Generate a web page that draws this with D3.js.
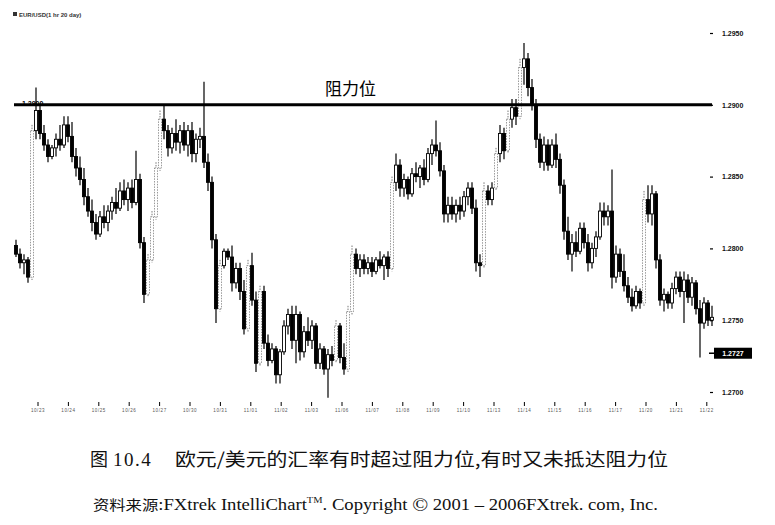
<!doctype html>
<html>
<head>
<meta charset="UTF-8">
<title>EUR/USD 阻力位</title>
<script src="https://d3js.org/d3.v7.min.js"></script>
<style>
  body { margin: 0; background: #fff; }
  svg { display: block; }
</style>
</head>
<body>
<script>
// prices kept as pips above 1.2700 (hourly bars)
var base = 1.2700;
var opens = [102,96,90,92,80,182,196,180,172,164, 170,176,172,186,178,164,156,148,136,126,
  118,110,122,118,126,132,128,140,134,142, 132,148,104,68,92,122,156,190,182,170,
  180,174,182,172,182,166,176,178,160,146, 106,58,88,98,94,76,86,70,44,88,
  64,20,70,34,22,30,12,28,46,54, 36,54,28,42,36,46,20,30,16,26,
  22,46,24,16,56,96,86,92,86,90, 84,92,88,94,86,146,158,142,148,138,
  152,150,156,148,166,172,168,154,124,130, 124,130,126,136,142,128,90,88,140,134,
  142,166,180,168,190,198,192,226,232,212, 200,176,160,172,158,172,162,144,112,96,
  104,98,114,104,90,100,108,126,122,126, 80,96,84,74,66,60,70,62,134,124,
  138,92,64,68,62,72,80,70,78,66, 76,58,48,62,50];
var highs = [106,100,96,94,186,212,200,186,176,172, 180,186,192,192,188,170,164,156,142,134,
  124,126,130,130,136,142,146,148,146,148, 168,152,108,96,126,160,196,200,186,184,
  190,186,188,186,188,180,184,216,166,150, 110,92,100,100,102,90,90,78,92,97,
  70,74,74,40,34,32,30,50,58,60, 60,56,46,52,50,48,34,32,30,32,
  50,48,34,60,102,100,96,96,94,94, 94,98,96,98,150,166,162,152,150,156,
  160,158,162,170,176,189,174,158,136,136, 134,136,140,146,146,134,96,146,144,146,
  170,186,184,196,204,204,232,243,236,218, 204,180,178,176,176,180,166,148,122,110,
  112,118,118,110,104,112,132,132,130,155, 102,100,96,80,72,74,72,140,144,144,
  140,96,72,70,76,84,84,84,82,80, 78,64,66,64,60];
var lows = [94,86,82,76,78,176,176,168,160,162, 164,168,170,174,160,150,144,130,122,112,
  106,108,114,112,120,124,126,130,126,128, 130,100,62,66,90,120,154,176,164,166,
  168,166,168,164,160,160,170,156,140,100, 48,56,86,92,70,72,64,40,42,60,
  14,18,30,18,20,6,6,26,40,30, 20,22,24,32,30,16,16,12,-4,18,
  20,20,12,14,54,82,80,82,82,80, 82,86,78,80,84,140,136,136,134,136,
  146,142,144,146,158,164,150,118,118,120, 118,120,122,130,124,84,80,86,130,130,
  140,160,162,166,184,186,190,214,206,196, 170,156,154,154,156,156,138,106,92,84,
  94,96,100,84,86,94,106,116,116,72, 76,80,70,62,56,58,58,60,118,116,
  86,60,56,58,58,68,66,48,62,60, 54,24,44,46,46];
var closes = [96,90,92,80,182,196,180,172,164,170, 176,172,186,178,164,156,148,136,126,118,
  110,122,118,126,132,128,140,134,142,132, 148,104,68,92,122,156,190,182,170,180,
  174,182,172,182,166,176,178,160,146,106, 58,88,98,94,76,86,70,44,88,64,
  20,70,34,22,30,12,28,46,54,36, 54,28,42,36,46,20,30,16,26,22,
  46,24,16,56,96,86,92,86,90,84, 92,88,94,86,146,158,142,148,138,152,
  150,156,148,166,172,168,154,124,130,124, 130,126,136,142,128,90,88,140,134,142,
  166,180,168,190,198,192,226,232,212,200, 176,160,172,158,172,162,144,112,96,104,
  98,114,104,90,100,108,126,122,126,80, 96,84,74,66,60,70,62,134,124,138,
  92,64,68,62,72,80,70,78,66,76, 58,48,62,50,52];

var priceTicks = [1.2700, 1.2750, 1.2800, 1.2850, 1.2900, 1.2950];
var resistance = 1.2900;
var lastQuote = 1.2727;
var dateLabels = ["10/23","10/24","10/25","10/26","10/27","10/30","10/31","11/01",
  "11/02","11/03","11/06","11/07","11/08","11/09","11/10","11/13","11/14","11/15",
  "11/16","11/17","11/20","11/21","11/22"];

var W = 775, H = 525;
var n = closes.length;
var svg = d3.select("body").append("svg").attr("width", W).attr("height", H);
svg.append("rect").attr("width", W).attr("height", H).attr("fill", "#fff");

var x = d3.scaleLinear().domain([0, n - 1]).range([16, 712]);
var y = d3.scaleLinear().domain([1.2700, 1.2950]).range([392, 33]);
function p(v) { return base + v / 10000; }
function up(i) { return closes[i] >= opens[i]; }
function tall(i) { return Math.abs(closes[i] - opens[i]) > 20; }

// header
svg.append("rect").attr("x", 13).attr("y", 12).attr("width", 4).attr("height", 4).attr("fill", "#333");
svg.append("text").attr("x", 19).attr("y", 17)
  .attr("font-family", "Liberation Sans, Arial").attr("font-size", 6).attr("font-weight", "bold")
  .attr("fill", "#333").text("EUR/USD(1 hr  20 day)");

// candles
var bars = svg.append("g").selectAll("g").data(d3.range(n)).enter().append("g");
bars.append("line")
  .attr("x1", function(i){ return x(i); }).attr("x2", function(i){ return x(i); })
  .attr("y1", function(i){ return y(p(highs[i])); })
  .attr("y2", function(i){ return y(p(lows[i])); })
  .attr("stroke", function(i){ return up(i) && tall(i) ? "#555" : "#000"; })
  .attr("stroke-width", function(i){ return up(i) && tall(i) ? 0.8 : 1.2; })
  .attr("stroke-dasharray", function(i){ return up(i) && tall(i) ? "1.5,1.2" : null; });
bars.append("rect")
  .attr("x", function(i){ return x(i) - 1.5; })
  .attr("width", 3)
  .attr("y", function(i){ return y(p(Math.max(opens[i], closes[i]))); })
  .attr("height", function(i){ return Math.max(1, Math.abs(y(p(opens[i])) - y(p(closes[i])))); })
  .attr("fill", function(i){ return up(i) ? "#fff" : "#000"; })
  .attr("stroke", function(i){ return up(i) && tall(i) ? "#555" : "#000"; })
  .attr("stroke-width", function(i){ return up(i) && tall(i) ? 0.6 : 0.9; })
  .attr("stroke-dasharray", function(i){ return up(i) && tall(i) ? "1.5,1.2" : null; });

// resistance
svg.append("line").attr("x1", 14).attr("x2", 712)
  .attr("y1", y(resistance)).attr("y2", y(resistance))
  .attr("stroke", "#000").attr("stroke-width", 3);
svg.append("text").attr("x", 22).attr("y", y(resistance) + 1)
  .attr("font-family", "Liberation Sans, Arial").attr("font-size", 7).attr("font-weight", "bold")
  .attr("fill", "#000").text("1.2900");
svg.append("text").attr("x", 325).attr("y", 95)
  .attr("font-family", "Noto Sans CJK SC").attr("font-size", 17).attr("fill", "#000")
  .text("阻力位");

// right price axis
var ax = svg.append("g").attr("transform", "translate(710,0)")
  .call(d3.axisRight(y).tickValues(priceTicks).tickSize(3).tickPadding(9).tickFormat(d3.format(".4f")));
ax.select(".domain").remove();
ax.selectAll("line").attr("stroke", "#000").attr("stroke-width", 1.2);
ax.selectAll("text").attr("font-family", "Liberation Sans, Arial").attr("font-size", 7)
  .attr("font-weight", "bold").attr("fill", "#111");

// last quote marker
svg.append("line").attr("x1", 709).attr("x2", 714).attr("y1", y(lastQuote)).attr("y2", y(lastQuote))
  .attr("stroke", "#000").attr("stroke-width", 1.5);
svg.append("rect").attr("x", 714).attr("y", y(lastQuote) - 5.5).attr("width", 38).attr("height", 11)
  .attr("fill", "#000");
svg.append("text").attr("x", 733).attr("y", y(lastQuote) + 2.5).attr("text-anchor", "middle")
  .attr("font-family", "Liberation Sans, Arial").attr("font-size", 7).attr("font-weight", "bold")
  .attr("fill", "#fff").text(d3.format(".4f")(lastQuote));

// time axis
var tickIdx = d3.range(dateLabels.length).map(function(k){ return 5.5 + k * 7.6; });
var tx = svg.append("g").selectAll("g").data(tickIdx).enter().append("g")
  .attr("transform", function(d){ return "translate(" + x(d) + ",0)"; });
tx.append("line").attr("y1", 402).attr("y2", 406).attr("stroke", "#000").attr("stroke-width", 1);
tx.append("text").attr("y", 412).attr("text-anchor", "middle")
  .attr("font-family", "Liberation Sans, Arial").attr("font-size", 4.5).attr("fill", "#555")
  .attr("letter-spacing", 0.6)
  .text(function(d, k){ return dateLabels[k]; });

// caption
var cap = svg.append("g").attr("fill", "#111");
cap.append("text").attr("x", 90).attr("y", 466)
  .attr("font-family", "Noto Sans CJK SC").attr("font-size", 18).text("图");
cap.append("text").attr("x", 113).attr("y", 466)
  .attr("font-family", "Liberation Serif").attr("font-size", 19).attr("letter-spacing", 1.5).text("10.4");
cap.append("text").attr("x", 175).attr("y", 466)
  .attr("font-family", "Noto Sans CJK SC").attr("font-size", 18)
  .attr("textLength", 493).attr("lengthAdjust", "spacingAndGlyphs")
  .text("欧元/美元的汇率有时超过阻力位,有时又未抵达阻力位");

var src = svg.append("text").attr("x", 93).attr("y", 510).attr("fill", "#111")
  .attr("font-family", "Liberation Serif, Noto Sans CJK SC").attr("font-size", 16)
  .attr("textLength", 565).attr("lengthAdjust", "spacingAndGlyphs");
src.append("tspan").attr("font-family", "Noto Sans CJK SC").attr("font-size", 14).text("资料来源");
src.append("tspan").text(":FXtrek IntelliChart");
src.append("tspan").attr("font-size", 9).attr("dy", -7).text("TM");
src.append("tspan").attr("dy", 7).text(". Copyright ");
src.append("tspan").attr("font-size", 18).attr("dy", 1).text("©");
src.append("tspan").attr("dy", -1).text(" 2001 – 2006FXtrek. com, Inc.");
</script>
</body>
</html>
